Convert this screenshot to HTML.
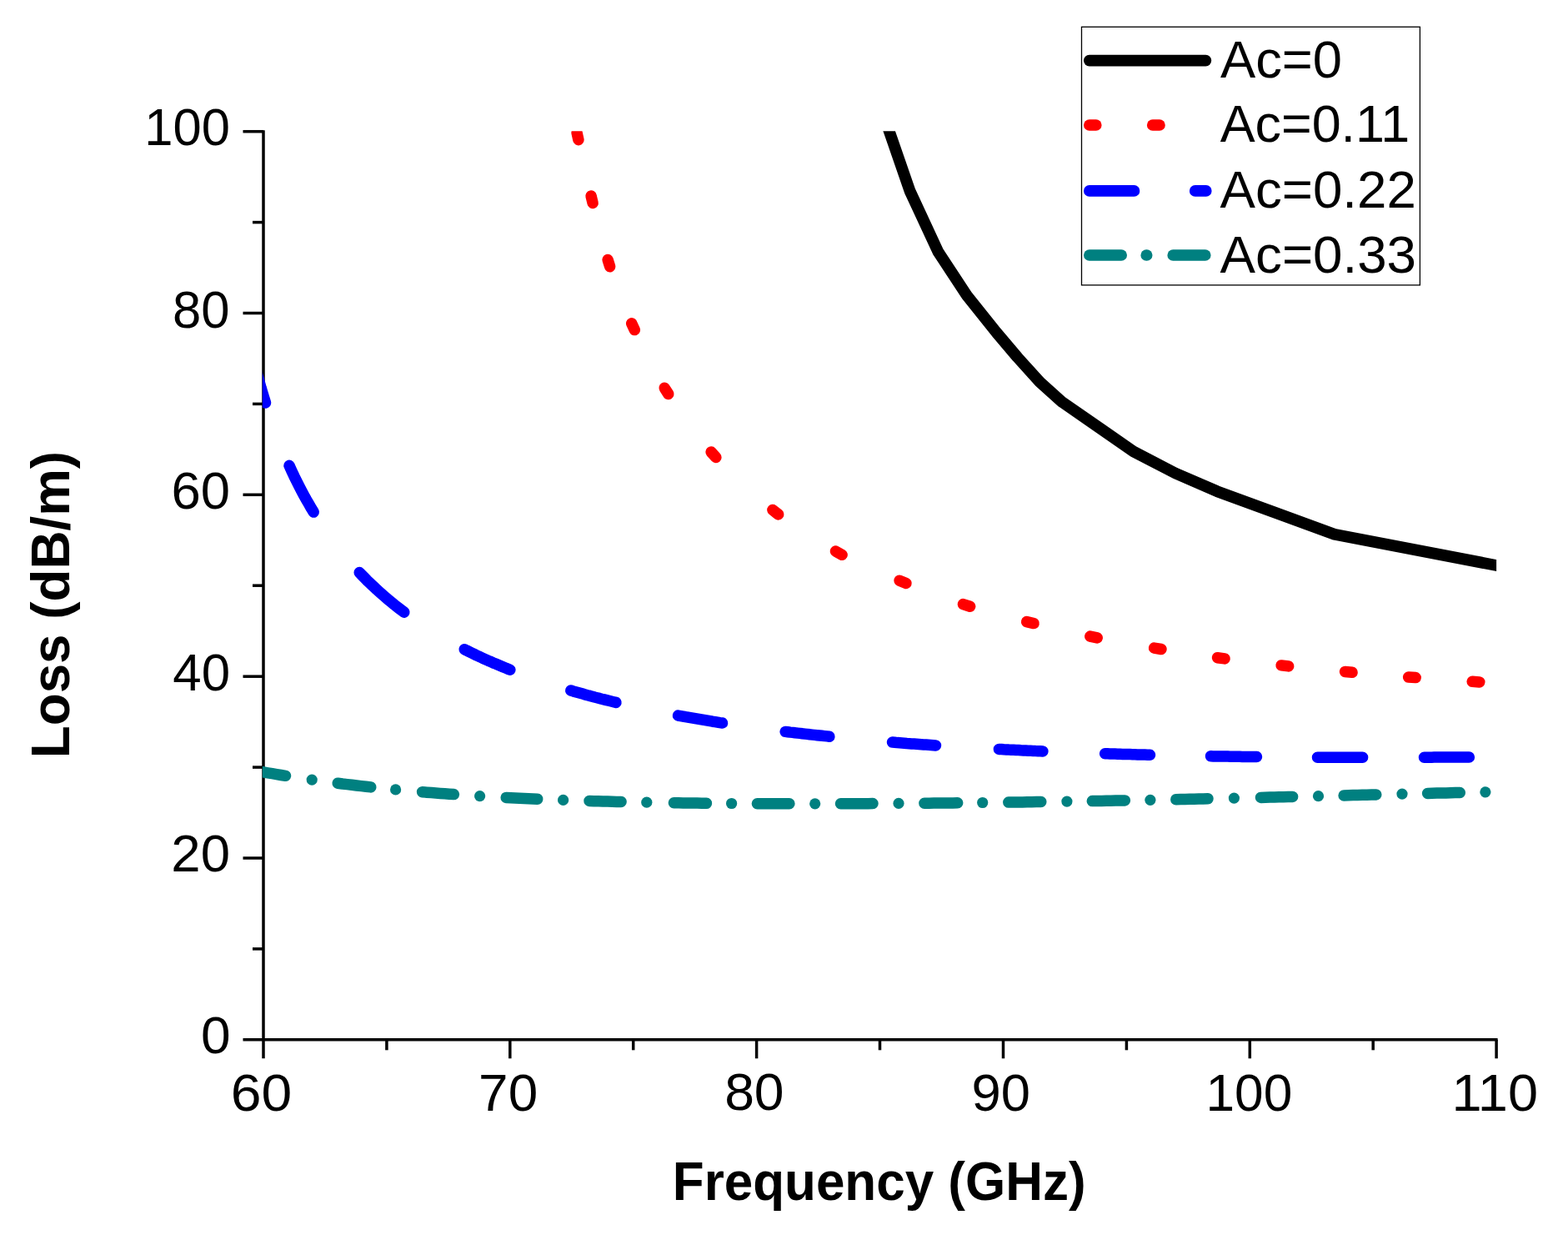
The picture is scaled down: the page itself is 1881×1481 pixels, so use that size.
<!DOCTYPE html>
<html><head><meta charset="utf-8"><title>Loss vs Frequency</title>
<style>html,body{margin:0;padding:0;background:#fff;}body{width:1881px;height:1481px;overflow:hidden;}svg{display:block;}</style>
</head><body>
<svg width="1881" height="1481" viewBox="0 0 1881 1481">
<defs><clipPath id="pc"><rect x="314.8" y="157.3" width="1480.3" height="1090"/></clipPath></defs>
<rect width="100%" height="100%" fill="#fff"/>
<g stroke="#000" stroke-width="3.5" fill="none" stroke-linecap="butt">
<line x1="316.0" y1="156.2" x2="316.0" y2="1269.3"/>
<line x1="291.5" y1="1246.8" x2="1796.6" y2="1246.8"/>
<line x1="303.0" y1="1137.9" x2="316.0" y2="1137.9"/>
<line x1="291.5" y1="1029.0" x2="316.0" y2="1029.0"/>
<line x1="303.0" y1="920.1" x2="316.0" y2="920.1"/>
<line x1="291.5" y1="811.2" x2="316.0" y2="811.2"/>
<line x1="303.0" y1="702.2" x2="316.0" y2="702.2"/>
<line x1="291.5" y1="593.3" x2="316.0" y2="593.3"/>
<line x1="303.0" y1="484.4" x2="316.0" y2="484.4"/>
<line x1="291.5" y1="375.5" x2="316.0" y2="375.5"/>
<line x1="303.0" y1="266.6" x2="316.0" y2="266.6"/>
<line x1="291.5" y1="157.7" x2="316.0" y2="157.7"/>
<line x1="463.9" y1="1246.8" x2="463.9" y2="1259.3"/>
<line x1="611.8" y1="1246.8" x2="611.8" y2="1269.3"/>
<line x1="759.7" y1="1246.8" x2="759.7" y2="1259.3"/>
<line x1="907.6" y1="1246.8" x2="907.6" y2="1269.3"/>
<line x1="1055.5" y1="1246.8" x2="1055.5" y2="1259.3"/>
<line x1="1203.5" y1="1246.8" x2="1203.5" y2="1269.3"/>
<line x1="1351.4" y1="1246.8" x2="1351.4" y2="1259.3"/>
<line x1="1499.3" y1="1246.8" x2="1499.3" y2="1269.3"/>
<line x1="1647.2" y1="1246.8" x2="1647.2" y2="1259.3"/>
<line x1="1795.1" y1="1246.8" x2="1795.1" y2="1269.3"/>
</g>
<g clip-path="url(#pc)" fill="none" stroke-linecap="round" stroke-linejoin="round">
<polyline points="1060.7,140.0 1066.7,157.3 1091.5,229.0 1125.6,302.3 1159.8,354.3 1195.4,398.8 1220.6,428.5 1247.4,458.2 1273.8,481.8 1359.6,541.3 1410.0,567.5 1460.0,589.2 1600.8,640.8 1795.1,678.0 1815.0,681.8" stroke="#000" stroke-width="13.8" stroke-linecap="butt"/>
<line x1="692.1" y1="159.3" x2="693.9" y2="167.7" stroke="#f00" stroke-width="13.5"/>
<line x1="709.1" y1="235.1" x2="711.1" y2="243.5" stroke="#f00" stroke-width="13.5"/>
<line x1="729.1" y1="311.5" x2="731.7" y2="319.7" stroke="#f00" stroke-width="13.5"/>
<line x1="757.7" y1="387.8" x2="761.3" y2="395.6" stroke="#f00" stroke-width="13.5"/>
<line x1="797.2" y1="465.3" x2="801.8" y2="472.5" stroke="#f00" stroke-width="13.5"/>
<line x1="853.1" y1="542.1" x2="858.9" y2="548.5" stroke="#f00" stroke-width="13.5"/>
<line x1="926.9" y1="611.5" x2="933.7" y2="616.9" stroke="#f00" stroke-width="13.5"/>
<line x1="1002.5" y1="661.1" x2="1010.1" y2="665.3" stroke="#f00" stroke-width="13.5"/>
<line x1="1079.0" y1="696.2" x2="1087.0" y2="699.4" stroke="#f00" stroke-width="13.5"/>
<line x1="1155.4" y1="724.6" x2="1163.6" y2="727.2" stroke="#f00" stroke-width="13.5"/>
<line x1="1231.7" y1="745.6" x2="1240.1" y2="747.6" stroke="#f00" stroke-width="13.5"/>
<line x1="1307.8" y1="763.1" x2="1316.2" y2="764.9" stroke="#f00" stroke-width="13.5"/>
<line x1="1384.6" y1="777.1" x2="1393.0" y2="778.5" stroke="#f00" stroke-width="13.5"/>
<line x1="1460.5" y1="788.7" x2="1469.1" y2="789.9" stroke="#f00" stroke-width="13.5"/>
<line x1="1537.1" y1="797.9" x2="1545.7" y2="798.9" stroke="#f00" stroke-width="13.5"/>
<line x1="1613.5" y1="805.5" x2="1622.1" y2="806.3" stroke="#f00" stroke-width="13.5"/>
<line x1="1689.6" y1="812.0" x2="1698.2" y2="812.6" stroke="#f00" stroke-width="13.5"/>
<line x1="1766.2" y1="817.3" x2="1774.8" y2="817.9" stroke="#f00" stroke-width="13.5"/>
<polyline points="300.0,415.7 302.6,426.5 305.3,436.9 307.9,446.8 310.6,456.4 313.2,465.6 315.9,474.4 318.5,483.0" stroke="#00f" stroke-width="13.5"/>
<polyline points="347.0,558.3 349.9,564.7 352.8,570.9 355.8,576.9 358.7,582.7 361.6,588.3 364.5,593.8 367.4,599.1 370.4,604.2 373.3,609.3 376.2,614.1" stroke="#00f" stroke-width="13.5"/>
<polyline points="431.2,686.6 434.2,689.7 437.2,692.8 440.1,695.8 443.1,698.7 446.1,701.5 449.1,704.3 452.0,707.1 455.0,709.8 458.0,712.4 461.0,715.0 464.0,717.6 466.9,720.1 469.9,722.5 472.9,725.0 475.9,727.3 478.8,729.6 481.8,731.9 484.8,734.2" stroke="#00f" stroke-width="13.5"/>
<polyline points="557.2,778.7 560.1,780.2 563.0,781.6 565.8,783.0 568.7,784.4 571.6,785.8 574.5,787.1 577.4,788.5 580.2,789.8 583.1,791.1 586.0,792.4 588.9,793.6 591.7,794.9 594.6,796.1 597.5,797.3 600.4,798.5 603.3,799.7 606.1,800.9 609.0,802.1 611.9,803.2" stroke="#00f" stroke-width="13.5"/>
<polyline points="684.8,828.0 687.7,828.9 690.5,829.7 693.4,830.5 696.2,831.3 699.1,832.1 701.9,832.9 704.8,833.7 707.6,834.4 710.5,835.2 713.3,836.0 716.2,836.7 719.0,837.4 721.9,838.2 724.7,838.9 727.6,839.6 730.4,840.3 733.3,841.0 736.1,841.7 739.0,842.4" stroke="#00f" stroke-width="13.5"/>
<polyline points="813.5,858.1 816.5,858.6 819.4,859.1 822.4,859.7 825.3,860.2 828.2,860.7 831.2,861.2 834.1,861.7 837.1,862.2 840.0,862.7 843.0,863.2 846.0,863.7 848.9,864.2 851.9,864.7 854.8,865.2 857.8,865.6 860.7,866.1 863.6,866.6 866.6,867.0" stroke="#00f" stroke-width="13.5"/>
<polyline points="942.1,877.4 945.0,877.7 948.0,878.1 950.9,878.4 953.8,878.8 956.8,879.1 959.7,879.4 962.6,879.8 965.6,880.1 968.5,880.4 971.4,880.8 974.4,881.1 977.3,881.4 980.2,881.7 983.2,882.0 986.1,882.3 989.0,882.6 992.0,882.9 994.9,883.2" stroke="#00f" stroke-width="13.5"/>
<polyline points="1070.5,890.1 1073.4,890.3 1076.3,890.6 1079.2,890.8 1082.1,891.0 1084.9,891.2 1087.8,891.5 1090.7,891.7 1093.6,891.9 1096.5,892.1 1099.4,892.3 1102.3,892.5 1105.2,892.7 1108.1,892.9 1110.9,893.1 1113.8,893.3 1116.7,893.5 1119.6,893.7 1122.5,893.9" stroke="#00f" stroke-width="13.5"/>
<polyline points="1198.4,898.5 1201.3,898.6 1204.2,898.8 1207.2,898.9 1210.1,899.1 1213.0,899.2 1215.9,899.3 1218.8,899.5 1221.7,899.6 1224.7,899.8 1227.6,899.9 1230.5,900.0 1233.4,900.2 1236.3,900.3 1239.2,900.4 1242.2,900.6 1245.1,900.7 1248.0,900.8 1250.9,901.0" stroke="#00f" stroke-width="13.5"/>
<polyline points="1325.6,903.8 1328.6,903.8 1331.6,903.9 1334.6,904.0 1337.6,904.1 1340.6,904.2 1343.6,904.3 1346.6,904.4 1349.6,904.5 1352.5,904.6 1355.5,904.6 1358.5,904.7 1361.5,904.8 1364.5,904.9 1367.5,905.0 1370.5,905.1 1373.5,905.1 1376.5,905.2 1379.5,905.3" stroke="#00f" stroke-width="13.5"/>
<polyline points="1452.5,906.8 1455.4,906.9 1458.3,906.9 1461.2,907.0 1464.1,907.0 1467.0,907.0 1469.9,907.1 1472.8,907.1 1475.7,907.2 1478.6,907.2 1481.4,907.3 1484.3,907.3 1487.2,907.3 1490.1,907.4 1493.0,907.4 1495.9,907.4 1498.8,907.5 1501.7,907.5 1504.6,907.5 1507.5,907.6" stroke="#00f" stroke-width="13.5"/>
<polyline points="1580.5,908.2 1583.3,908.2 1586.2,908.2 1589.0,908.2 1591.9,908.2 1594.7,908.2 1597.6,908.3 1600.4,908.3 1603.3,908.3 1606.1,908.3 1609.0,908.3 1611.8,908.3 1614.7,908.3 1617.5,908.3 1620.4,908.3 1623.2,908.3 1626.1,908.3 1628.9,908.3 1631.8,908.3 1634.6,908.3" stroke="#00f" stroke-width="13.5"/>
<polyline points="1708.5,908.2 1711.5,908.2 1714.5,908.2 1717.5,908.2 1720.5,908.1 1723.5,908.1 1726.5,908.1 1729.5,908.1 1732.5,908.1 1735.5,908.1 1738.4,908.0 1741.4,908.0 1744.4,908.0 1747.4,908.0 1750.4,908.0 1753.4,907.9 1756.4,907.9 1759.4,907.9 1762.4,907.9" stroke="#00f" stroke-width="13.5"/>
<polyline points="300.0,923.0 305.3,924.0 310.6,924.9 315.9,925.9 321.2,926.8 326.6,927.7 331.9,928.6 337.2,929.5 342.5,930.3" stroke="#008080" stroke-width="13.5"/>
<polyline points="405.2,939.2 410.9,940.0 416.5,940.6 422.2,941.3 427.8,942.0 433.5,942.6 439.1,943.2 444.8,943.9" stroke="#008080" stroke-width="13.5"/>
<polyline points="506.6,949.7 512.0,950.2 517.4,950.6 522.8,951.0 528.2,951.4 533.6,951.8 539.0,952.2 544.4,952.6" stroke="#008080" stroke-width="13.5"/>
<polyline points="607.2,956.4 612.6,956.7 617.9,957.0 623.3,957.2 628.6,957.5 634.0,957.7 639.3,958.0 644.7,958.2" stroke="#008080" stroke-width="13.5"/>
<polyline points="707.0,960.5 712.4,960.7 717.9,960.8 723.3,961.0 728.8,961.1 734.2,961.3 739.7,961.4 745.1,961.5" stroke="#008080" stroke-width="13.5"/>
<polyline points="808.4,962.8 814.0,962.8 819.5,962.9 825.1,963.0 830.7,963.1 836.3,963.1 841.8,963.2 847.4,963.3" stroke="#008080" stroke-width="13.5"/>
<polyline points="908.4,963.7 913.9,963.7 919.4,963.8 924.9,963.8 930.4,963.8 935.9,963.8 941.4,963.8 946.9,963.8" stroke="#008080" stroke-width="13.5"/>
<polyline points="1008.5,963.8 1014.0,963.8 1019.5,963.7 1025.0,963.7 1030.5,963.7 1036.0,963.7 1041.5,963.7 1047.0,963.6" stroke="#008080" stroke-width="13.5"/>
<polyline points="1108.9,963.2 1114.6,963.2 1120.3,963.1 1126.0,963.1 1131.6,963.0 1137.3,962.9 1143.0,962.9 1148.7,962.8" stroke="#008080" stroke-width="13.5"/>
<polyline points="1209.8,962.1 1215.4,962.0 1220.9,962.0 1226.5,961.9 1232.1,961.8 1237.7,961.7 1243.2,961.6 1248.8,961.6" stroke="#008080" stroke-width="13.5"/>
<polyline points="1310.3,960.6 1315.9,960.5 1321.5,960.4 1327.1,960.3 1332.6,960.2 1338.2,960.1 1343.8,960.0 1349.4,959.9" stroke="#008080" stroke-width="13.5"/>
<polyline points="1410.8,958.7 1416.3,958.5 1421.7,958.4 1427.2,958.3 1432.6,958.2 1438.1,958.1 1443.5,958.0 1449.0,957.8" stroke="#008080" stroke-width="13.5"/>
<polyline points="1512.5,956.4 1517.9,956.2 1523.4,956.1 1528.8,956.0 1534.3,955.8 1539.7,955.7 1545.2,955.6 1550.6,955.4" stroke="#008080" stroke-width="13.5"/>
<polyline points="1612.1,953.9 1617.6,953.8 1623.2,953.6 1628.7,953.5 1634.2,953.3 1639.7,953.2 1645.3,953.1 1650.8,952.9" stroke="#008080" stroke-width="13.5"/>
<polyline points="1712.6,951.4 1718.1,951.3 1723.7,951.1 1729.2,951.0 1734.7,950.9 1740.2,950.7 1745.8,950.6 1751.3,950.5" stroke="#008080" stroke-width="13.5"/>
<circle cx="374.2" cy="935.1" r="6.6" fill="#008080" stroke="none"/>
<circle cx="474.6" cy="946.9" r="6.6" fill="#008080" stroke="none"/>
<circle cx="575.6" cy="954.6" r="6.6" fill="#008080" stroke="none"/>
<circle cx="675.6" cy="959.4" r="6.6" fill="#008080" stroke="none"/>
<circle cx="775.8" cy="962.2" r="6.6" fill="#008080" stroke="none"/>
<circle cx="877.6" cy="963.5" r="6.6" fill="#008080" stroke="none"/>
<circle cx="977.7" cy="963.8" r="6.6" fill="#008080" stroke="none"/>
<circle cx="1078.0" cy="963.4" r="6.6" fill="#008080" stroke="none"/>
<circle cx="1178.7" cy="962.5" r="6.6" fill="#008080" stroke="none"/>
<circle cx="1279.9" cy="961.1" r="6.6" fill="#008080" stroke="none"/>
<circle cx="1379.9" cy="959.3" r="6.6" fill="#008080" stroke="none"/>
<circle cx="1480.4" cy="957.1" r="6.6" fill="#008080" stroke="none"/>
<circle cx="1581.5" cy="954.7" r="6.6" fill="#008080" stroke="none"/>
<circle cx="1682.0" cy="952.1" r="6.6" fill="#008080" stroke="none"/>
<circle cx="1781.9" cy="949.8" r="6.6" fill="#008080" stroke="none"/>
</g>
<text x="275.92" y="174.19" text-anchor="end" font-family="'Liberation Sans', Arial, sans-serif" font-size="62.20" textLength="102.68" lengthAdjust="spacingAndGlyphs">100</text>
<text x="275.55" y="393.17" text-anchor="end" font-family="'Liberation Sans', Arial, sans-serif" font-size="62.20" textLength="68.47" lengthAdjust="spacingAndGlyphs">80</text>
<text x="276.01" y="610.19" text-anchor="end" font-family="'Liberation Sans', Arial, sans-serif" font-size="62.20" textLength="70.52" lengthAdjust="spacingAndGlyphs">60</text>
<text x="276.02" y="828.49" text-anchor="end" font-family="'Liberation Sans', Arial, sans-serif" font-size="62.20" textLength="68.75" lengthAdjust="spacingAndGlyphs">40</text>
<text x="275.99" y="1045.48" text-anchor="end" font-family="'Liberation Sans', Arial, sans-serif" font-size="62.20" textLength="70.63" lengthAdjust="spacingAndGlyphs">20</text>
<text x="276.56" y="1263.38" text-anchor="end" font-family="'Liberation Sans', Arial, sans-serif" font-size="62.20" textLength="35.62" lengthAdjust="spacingAndGlyphs">0</text>
<text x="313.45" y="1332.18" text-anchor="middle" font-family="'Liberation Sans', Arial, sans-serif" font-size="62.20" textLength="73.44" lengthAdjust="spacingAndGlyphs">60</text>
<text x="609.64" y="1331.65" text-anchor="middle" font-family="'Liberation Sans', Arial, sans-serif" font-size="62.20" textLength="71.02" lengthAdjust="spacingAndGlyphs">70</text>
<text x="904.88" y="1331.47" text-anchor="middle" font-family="'Liberation Sans', Arial, sans-serif" font-size="62.20" textLength="71.46" lengthAdjust="spacingAndGlyphs">80</text>
<text x="1200.81" y="1331.67" text-anchor="middle" font-family="'Liberation Sans', Arial, sans-serif" font-size="62.20" textLength="70.46" lengthAdjust="spacingAndGlyphs">90</text>
<text x="1498.38" y="1332.02" text-anchor="middle" font-family="'Liberation Sans', Arial, sans-serif" font-size="62.20" textLength="103.80" lengthAdjust="spacingAndGlyphs">100</text>
<text x="1793.26" y="1332.06" text-anchor="middle" font-family="'Liberation Sans', Arial, sans-serif" font-size="62.20" textLength="103.53" lengthAdjust="spacingAndGlyphs">110</text>
<text x="1463.93" y="93.47" text-anchor="start" font-family="'Liberation Sans', Arial, sans-serif" font-size="62.60" textLength="146.18" lengthAdjust="spacingAndGlyphs">Ac=0</text>
<text x="1463.67" y="170.37" text-anchor="start" font-family="'Liberation Sans', Arial, sans-serif" font-size="62.60" textLength="227.60" lengthAdjust="spacingAndGlyphs">Ac=0.11</text>
<text x="1463.60" y="248.97" text-anchor="start" font-family="'Liberation Sans', Arial, sans-serif" font-size="62.60" textLength="235.22" lengthAdjust="spacingAndGlyphs">Ac=0.22</text>
<text x="1463.59" y="326.77" text-anchor="start" font-family="'Liberation Sans', Arial, sans-serif" font-size="62.60" textLength="235.44" lengthAdjust="spacingAndGlyphs">Ac=0.33</text>
<text x="1054.68" y="1439.20" text-anchor="middle" font-family="'Liberation Sans', Arial, sans-serif" font-size="64.50" font-weight="bold" textLength="495.78" lengthAdjust="spacingAndGlyphs">Frequency (GHz)</text>
<text transform="translate(83.30 725.11) rotate(-90)" text-anchor="middle" font-family="'Liberation Sans', Arial, sans-serif" font-size="64.50" font-weight="bold" textLength="368.28" lengthAdjust="spacingAndGlyphs">Loss (dB/m)</text>
<rect x="1297.5" y="32.3" width="405.9" height="309.6" fill="none" stroke="#000" stroke-width="1.3"/>
<g fill="none" stroke-linecap="round" stroke-width="13.6">
<line x1="1306.8" y1="72.6" x2="1446.4" y2="72.6" stroke="#000"/>
<line x1="1306.8" y1="150" x2="1314.8" y2="150" stroke="#f00"/>
<line x1="1382.7" y1="150" x2="1391" y2="150" stroke="#f00"/>
<line x1="1306.8" y1="228.9" x2="1360.5" y2="228.9" stroke="#00f"/>
<line x1="1433.7" y1="228.9" x2="1446.8" y2="228.9" stroke="#00f"/>
<line x1="1306.8" y1="306" x2="1345.2" y2="306" stroke="#008080"/>
<line x1="1375.2" y1="306" x2="1375.7" y2="306" stroke="#008080"/>
<line x1="1407.2" y1="306" x2="1445.8" y2="306" stroke="#008080"/>
</g>
</svg>
</body></html>
